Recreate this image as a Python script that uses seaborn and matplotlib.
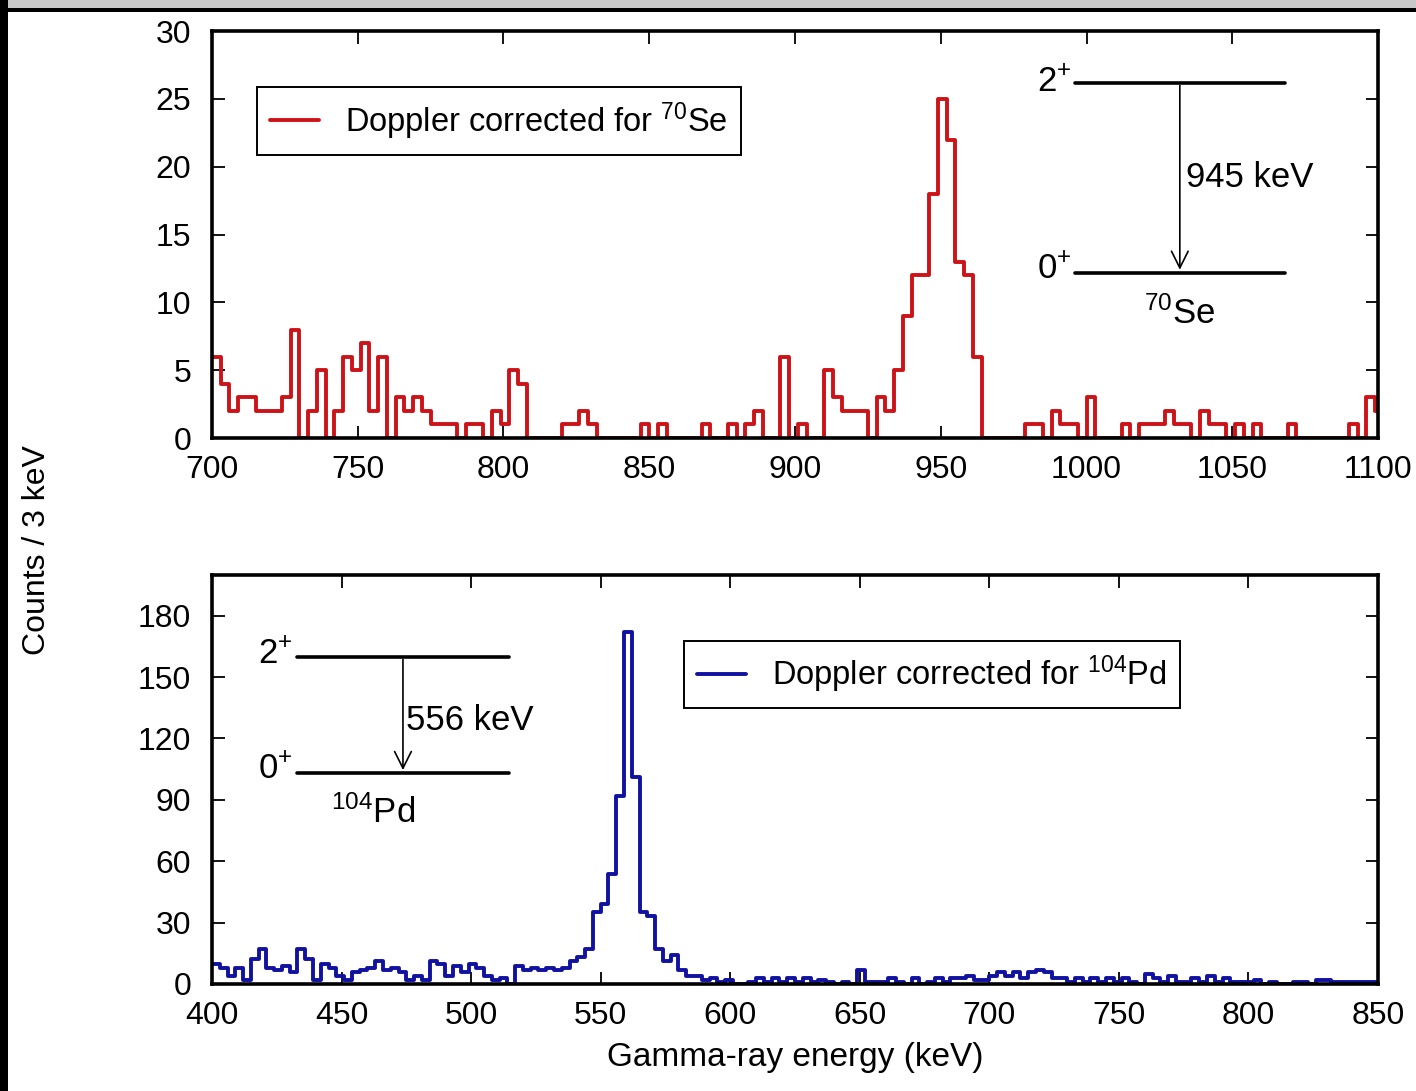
import numpy as np
import pandas as pd
import seaborn as sns
import matplotlib
matplotlib.use("Agg")
import matplotlib.pyplot as plt
from matplotlib.lines import Line2D
from matplotlib.patches import Rectangle

# ---- data: counts per 3 keV bin ----
bin_width = 3
se70_start = 700
se70_counts = [6, 4, 2, 3, 3, 2, 2, 2, 3, 8,
               0, 2, 5, 0, 2, 6, 5, 7, 2, 6,
               0, 3, 2, 3, 2, 1, 1, 1, 0, 1,
               1, 0, 2, 1, 5, 4, 0, 0, 0, 0,
               1, 1, 2, 1, 0, 0, 0, 0, 0, 1,
               0, 1, 0, 0, 0, 0, 1, 0, 0, 1,
               0, 1, 2, 0, 0, 6, 0, 1, 0, 0,
               5, 3, 2, 2, 2, 0, 3, 2, 5, 9,
               12, 12, 18, 25, 22, 13, 12, 6, 0, 0,
               0, 0, 0, 1, 1, 0, 2, 1, 1, 0,
               3, 0, 0, 0, 1, 0, 1, 1, 1, 2,
               1, 1, 0, 2, 1, 1, 0, 1, 0, 1,
               0, 0, 0, 1, 0, 0, 0, 0, 0, 0,
               1, 0, 3, 2]

pd104_start = 400
pd104_counts = [10, 8, 4, 8, 2, 12, 17, 8, 7, 9,
                6, 17, 12, 2, 10, 8, 4, 2, 6, 7,
                8, 11, 7, 8, 6, 2, 4, 2, 11, 10,
                4, 9, 6, 10, 8, 4, 2, 3, 0, 9,
                7, 8, 7, 8, 7, 8, 11, 13, 17, 35,
                39, 54, 92, 172, 101, 35, 33, 17, 11, 14,
                7, 4, 4, 2, 3, 1, 2, 0, 0, 1,
                3, 1, 3, 1, 3, 1, 3, 1, 2, 1,
                0, 1, 0, 7, 1, 1, 1, 3, 1, 0,
                3, 0, 1, 3, 1, 3, 3, 4, 2, 2,
                4, 6, 4, 6, 3, 6, 7, 6, 3, 3,
                1, 3, 1, 3, 1, 3, 1, 3, 1, 0,
                5, 3, 1, 4, 1, 1, 3, 1, 4, 1,
                3, 1, 1, 1, 2, 0, 1, 0, 0, 1,
                1, 0, 2, 2, 1, 1, 1, 1, 1, 1]

se70_label = "Doppler corrected for $^{70}$Se"
pd104_label = "Doppler corrected for $^{104}$Pd"
red = "#cc1418"
blue = "#1212a0"


def spectrum_frame(start, counts):
    counts = np.asarray(counts, dtype=float)
    lo = start + bin_width * np.arange(len(counts))
    df = pd.DataFrame({"energy": lo + bin_width / 2, "counts": counts})
    return df, (start, start + bin_width * len(counts))


sns.set_style("ticks")
plt.rcParams["font.family"] = ["Liberation Sans", "DejaVu Sans"]
plt.rcParams["mathtext.default"] = "regular"
plt.rcParams["axes.linewidth"] = 2.6
for key in ["text.color", "axes.labelcolor", "xtick.color", "ytick.color", "axes.edgecolor"]:
    plt.rcParams[key] = "black"

fig = plt.figure(figsize=(14.16, 10.91), dpi=100)

# screenshot frame bits (grey strip on top, black edge left)
fig.patches.append(Rectangle((0, 0.9925), 1, 0.0075, transform=fig.transFigure,
                             facecolor="#c8c8c8", edgecolor="none", zorder=0))
fig.patches.append(Rectangle((0, 0.989), 1, 0.0035, transform=fig.transFigure,
                             facecolor="black", edgecolor="none", zorder=0))
fig.patches.append(Rectangle((0, 0), 0.0055, 1, transform=fig.transFigure,
                             facecolor="black", edgecolor="none", zorder=0))

ax1 = fig.add_axes([0.1497, 0.5985, 0.8235, 0.373])
ax2 = fig.add_axes([0.1497, 0.0981, 0.8235, 0.375])

#%% top: 70Se
df1, range1 = spectrum_frame(se70_start, se70_counts)
sns.histplot(data=df1, x="energy", weights="counts", binwidth=bin_width,
             binrange=range1, element="step", fill=False, color=red,
             linewidth=2.8, ax=ax1)
ax1.set_xlim(700, 1100)
ax1.set_ylim(0, 30)
ax1.set_xticks(np.arange(700, 1101, 50))
ax1.set_yticks(np.arange(0, 31, 5))

ax1.legend(handles=[Line2D([], [], color=red, lw=2.8)], labels=[se70_label],
           loc="upper left", bbox_to_anchor=(0.0386, 0.862), borderaxespad=0,
           fontsize=23.5, handlelength=1.5, fancybox=False, edgecolor="black",
           framealpha=1, borderpad=0.4, handletextpad=0.8)
ax1.get_legend().get_frame().set_linewidth(1.4)

# level scheme 70Se
ax1.plot([996, 1068], [26.2, 26.2], color="black", lw=2.6)
ax1.plot([996, 1068], [12.2, 12.2], color="black", lw=2.6)
ax1.annotate("", xy=(1032, 12.2), xytext=(1032, 26.2),
             arrowprops=dict(arrowstyle="->", color="black", lw=1.2, mutation_scale=30))
ax1.text(995, 26.2, "2$^{+}$", fontsize=25, ha="right", va="center")
ax1.text(995, 12.4, "0$^{+}$", fontsize=25, ha="right", va="center")
ax1.text(1034, 19.2, "945 keV", fontsize=25, ha="left", va="center")
ax1.text(1032, 9.2, "$^{70}$Se", fontsize=25, ha="center", va="center")

#%% bottom: 104Pd
df2, range2 = spectrum_frame(pd104_start, pd104_counts)
sns.histplot(data=df2, x="energy", weights="counts", binwidth=bin_width,
             binrange=range2, element="step", fill=False, color=blue,
             linewidth=2.8, ax=ax2)
ax2.set_xlim(400, 850)
ax2.set_ylim(0, 200)
ax2.set_xticks(np.arange(400, 851, 50))
ax2.set_yticks(np.arange(0, 181, 30))

ax2.legend(handles=[Line2D([], [], color=blue, lw=2.8)], labels=[pd104_label],
           loc="upper left", bbox_to_anchor=(0.405, 0.839), borderaxespad=0,
           fontsize=23.5, handlelength=1.5, fancybox=False, edgecolor="black",
           framealpha=1, borderpad=0.4, handletextpad=0.8)
ax2.get_legend().get_frame().set_linewidth(1.4)

# level scheme 104Pd
ax2.plot([432.8, 514.6], [160, 160], color="black", lw=2.6)
ax2.plot([432.8, 514.6], [103.2, 103.2], color="black", lw=2.6)
ax2.annotate("", xy=(473.7, 103.2), xytext=(473.7, 160),
             arrowprops=dict(arrowstyle="->", color="black", lw=1.2, mutation_scale=30))
ax2.text(431, 161, "2$^{+}$", fontsize=25, ha="right", va="center")
ax2.text(431, 105, "0$^{+}$", fontsize=25, ha="right", va="center")
ax2.text(475, 129, "556 keV", fontsize=25, ha="left", va="center")
ax2.text(462, 84, "$^{104}$Pd", fontsize=25, ha="center", va="center")

for ax in (ax1, ax2):
    ax.tick_params(direction="in", top=True, right=True, length=9, width=1.3,
                   labelsize=23)
    ax.tick_params(axis="x", pad=12)
    ax.tick_params(axis="y", pad=15)
    ax.set_ylabel("")
    ax.set_xlabel("")

ax2.set_xlabel("Gamma-ray energy (keV)", fontsize=24, labelpad=8)
fig.text(0.026, 0.496, "Counts / 3 keV", rotation=90, fontsize=23,
         ha="center", va="center")

fig.savefig("out.png", dpi=100)
